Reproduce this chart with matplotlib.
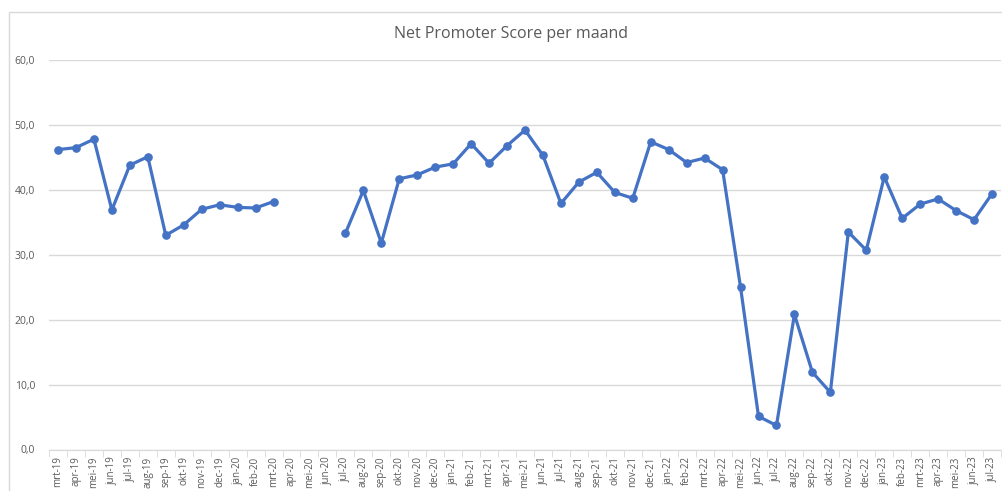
import numpy as np
import matplotlib
matplotlib.use('Agg')
import matplotlib.pyplot as plt
import matplotlib.ticker as mticker
from matplotlib.patches import Rectangle

plt.rcParams['font.family'] = ['Open Sans', 'DejaVu Sans']

months = ['mrt-19', 'apr-19', 'mei-19', 'jun-19', 'jul-19', 'aug-19', 'sep-19', 'okt-19', 'nov-19', 'dec-19',
          'jan-20', 'feb-20', 'mrt-20', 'apr-20', 'mei-20', 'jun-20', 'jul-20', 'aug-20', 'sep-20', 'okt-20',
          'nov-20', 'dec-20', 'jan-21', 'feb-21', 'mrt-21', 'apr-21', 'mei-21', 'jun-21', 'jul-21', 'aug-21',
          'sep-21', 'okt-21', 'nov-21', 'dec-21', 'jan-22', 'feb-22', 'mrt-22', 'apr-22', 'mei-22', 'jun-22',
          'jul-22', 'aug-22', 'sep-22', 'okt-22', 'nov-22', 'dec-22', 'jan-23', 'feb-23', 'mrt-23', 'apr-23',
          'mei-23', 'jun-23', 'jul-23']

nps = [46.2, 46.5, 47.8, 36.9, 43.8, 45.1, 33.0, 34.6, 37.0, 37.7,
       37.3, 37.2, 38.2, np.nan, np.nan, np.nan, 33.3, 39.9, 31.8, 41.7,
       42.3, 43.5, 44.0, 47.1, 44.1, 46.8, 49.2, 45.3, 37.9, 41.2,
       42.7, 39.6, 38.7, 47.4, 46.2, 44.2, 44.9, 43.1, 25.0, 5.1,
       3.7, 20.8, 11.9, 8.8, 33.5, 30.7, 42.0, 35.6, 37.8, 38.6,
       36.8, 35.4, 39.4]

yticks = [0, 10, 20, 30, 40, 50, 60]

W, H = 1003, 491
fig = plt.figure(figsize=(W / 100, H / 100), dpi=100)
ax = fig.add_axes([49 / W, (H - 449.5) / H, 952 / W, 389.5 / H])

# chart border (Excel style)
fig.patches.append(Rectangle((9 / W, -0.1), 1.2, (H - 12) / H + 0.1, transform=fig.transFigure,
                             fill=False, edgecolor='#d9d9d9', linewidth=1))

x = np.arange(len(months))
ax.plot(x, nps, color='#4472C4', linewidth=2.3, marker='o', markersize=5.2, zorder=3)

ax.set_xlim(-0.5, len(months) - 0.5)
ax.set_ylim(0, 60)
ax.set_yticks(yticks)
ax.yaxis.set_major_formatter(mticker.FuncFormatter(lambda v, p: f'{v:.1f}'.replace('.', ',')))
ax.grid(axis='y', color='#d9d9d9', linewidth=1)
ax.set_axisbelow(True)

ax.set_xticks(x)
ax.set_xticklabels(months, rotation=90)
ax.set_xticks(np.arange(len(months) + 1) - 0.5, minor=True)
ax.tick_params(axis='x', which='major', length=0, pad=5, labelsize=7, labelcolor='#595959')
ax.tick_params(axis='x', which='minor', length=5, color='#d9d9d9')
ax.tick_params(axis='y', length=0, pad=10, labelsize=7.5, labelcolor='#595959')

for s in ['top', 'right', 'left']:
    ax.spines[s].set_visible(False)
ax.spines['bottom'].set_color('#d9d9d9')

fig.text(511 / W, 1 - 34 / H, 'Net Promoter Score per maand', ha='center', va='center',
         fontsize=11.5, color='#595959')

fig.savefig('out.png', dpi=100)
